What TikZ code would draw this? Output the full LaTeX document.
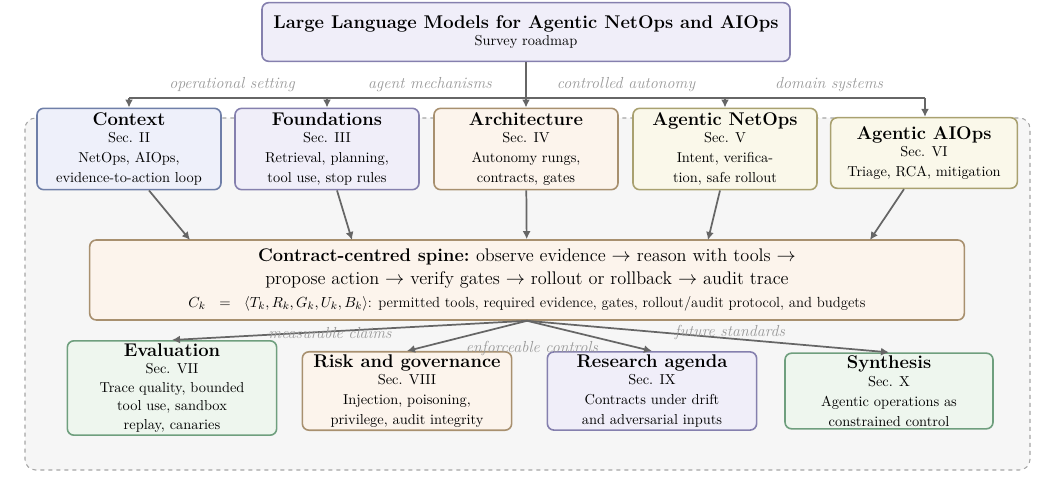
\documentclass[tikz,border=0pt]{standalone}
\usepackage{amsmath}
\usetikzlibrary{positioning,arrows.meta}
\definecolor{bluefill}{HTML}{EEF0FA}\definecolor{blueline}{HTML}{6F7FA8}
\definecolor{purpfill}{HTML}{F0EEF9}\definecolor{purpline}{HTML}{8580AE}
\definecolor{brownfill}{HTML}{FCF4EC}\definecolor{brownline}{HTML}{A8906F}
\definecolor{yelfill}{HTML}{FAF8EA}\definecolor{yelline}{HTML}{A9A170}
\definecolor{greenfill}{HTML}{EEF6EE}\definecolor{greenline}{HTML}{6F9F7E}
\definecolor{arrgray}{HTML}{666666}
\newcommand{\hd}[1]{{\fontsize{13.8}{16}\selectfont\bfseries #1}}
\newcommand{\spn}{\fontsize{13.7}{16}\selectfont}
\tikzset{
  box/.style={draw, rounded corners=5pt, line width=1.2pt, align=center, font=\fontsize{10.8}{13}\selectfont, inner sep=2pt},
  flow/.style={draw=arrgray, line width=1.3pt, -{Latex[length=6pt,width=6pt]}},
  lbl/.style={font=\fontsize{12}{13}\selectfont\itshape, text=gray!80}
}
\begin{document}
\begin{tikzpicture}[x=0.75pt, y=-0.75pt]
  \useasboundingbox (0,0) rectangle (1054,495);

  % background panel
  \path[draw=gray!70, dashed, fill=gray!7, rounded corners=8pt, line width=0.8pt] (25,118) rectangle (1030,470);

  % title
  \node[box, fill=purpfill, draw=purpline, minimum width=396pt, minimum height=44pt] (title) at (526,32)
    {\hd{Large Language Models for Agentic NetOps and AIOps}\\ Survey roadmap};

  % first row
  \node[box, fill=bluefill, draw=blueline, minimum width=138pt, minimum height=61pt] (ctx) at (129,149)
    {\hd{Context}\\ Sec. II\\[2pt] NetOps, AIOps,\\[2pt] evidence-to-action loop};
  \node[box, fill=purpfill, draw=purpline, minimum width=138pt, minimum height=61pt] (fnd) at (327,149)
    {\hd{Foundations}\\ Sec. III\\[2pt] Retrieval, planning,\\[2pt] tool use, stop rules};
  \node[box, fill=brownfill, draw=brownline, minimum width=138pt, minimum height=61pt] (arch) at (526,149)
    {\hd{Architecture}\\ Sec. IV\\[2pt] Autonomy rungs,\\[2pt] contracts, gates};
  \node[box, fill=yelfill, draw=yelline, minimum width=138pt, minimum height=61pt] (net) at (725,149)
    {\hd{Agentic NetOps}\\ Sec. V\\[2pt] Intent, verifica-\\[2pt] tion, safe rollout};
  \node[box, fill=yelfill, draw=yelline, minimum width=140pt, minimum height=53pt] (aiops) at (924,153)
    {\hd{Agentic AIOps}\\ Sec. VI\\[2pt] Triage, RCA, mitigation};

  % spine
  \node[box, fill=brownfill, draw=brownline, minimum width=656pt, minimum height=60pt] (spine) at (527,280)
    {{\spn\bfseries Contract-centred spine:} {\spn observe evidence $\rightarrow$ reason with tools $\rightarrow$}\\[4pt]
     {\spn propose action $\rightarrow$ verify gates $\rightarrow$ rollout or rollback $\rightarrow$ audit trace}\\[4pt]
     \fontsize{11}{12}\selectfont $C_k\ \ =\ \ \langle T_k,R_k,G_k,U_k,B_k\rangle$: permitted tools, required evidence, gates, rollout/audit protocol, and budgets};

  % second row
  \node[box, fill=greenfill, draw=greenline, minimum width=157pt, minimum height=63pt] (eval) at (172,388)
    {\hd{Evaluation}\\ Sec. VII\\[1pt] Trace quality, bounded\\[1pt] tool use, sandbox\\[1pt] replay, canaries};
  \node[box, fill=brownfill, draw=brownline, minimum width=157pt, minimum height=55pt] (risk) at (407,391)
    {\hd{Risk and governance}\\ Sec. VIII\\[2pt] Injection, poisoning,\\[2pt] privilege, audit integrity};
  \node[box, fill=purpfill, draw=purpline, minimum width=157pt, minimum height=55pt] (res) at (652,391)
    {\hd{Research agenda}\\ Sec. IX\\[2pt] Contracts under drift\\[2pt] and adversarial inputs};
  \node[box, fill=greenfill, draw=greenline, minimum width=156pt, minimum height=55pt] (syn) at (889,391)
    {\hd{Synthesis}\\ Sec. X\\[2pt] Agentic operations as\\[2pt] constrained control};

  % roadmap branches
  \draw[flow] (title) -- (arch);
  \draw[draw=arrgray, line width=1.3pt] (129,98) -- (925,98);
  \draw[flow] (129,98) -- (ctx.north -| 129,0);
  \draw[flow] (327,98) -- (fnd.north -| 327,0);
  \draw[flow] (725,98) -- (net.north -| 725,0);
  \draw[flow] (925,98) -- (aiops.north -| 925,0);
  \node[lbl] (l1) at (232,85) {operational setting};
  \node[lbl] (l2) at (430,85) {agent mechanisms};
  \node[lbl] (l3) at (626,85) {controlled autonomy};
  \node[lbl] (l4) at (829,85) {domain systems};

  % into the spine
  \draw[flow] (ctx.south) ++(20,0) -- (190,240);
  \draw[flow] (fnd.south) ++(10,0) -- (352,240);
  \draw[flow] (arch) -- (spine);
  \draw[flow] (net.south) ++(-5,0) -- (708,240);
  \draw[flow] (aiops.south) ++(-20,0) -- (870,240);

  % out of the spine
  \draw[flow] (spine.south) -- (eval.north);
  \draw[flow] (spine.south) -- (risk.north);
  \draw[flow] (spine.south) -- (res.north);
  \draw[flow] (spine.south) -- (syn.north);
  \node[lbl] (m1) at (330,333) {measurable claims};
  \node[lbl] (m2) at (532,349) {enforceable controls};
  \node[lbl] (m3) at (730,333) {future standards};
\end{tikzpicture}
\end{document}
